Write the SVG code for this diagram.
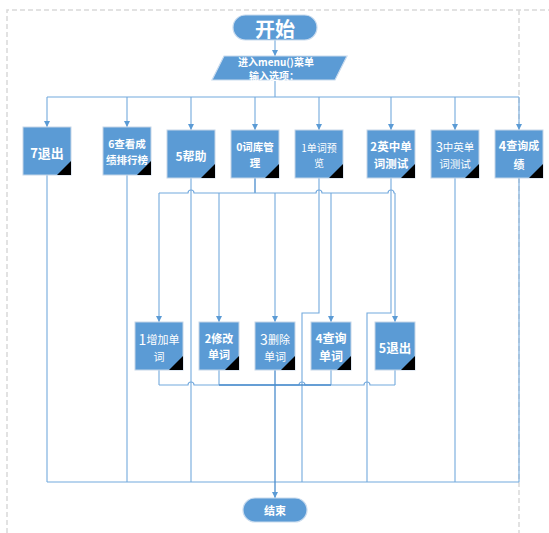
<svg xmlns="http://www.w3.org/2000/svg" width="549" height="533" viewBox="0 0 549 533">
<style>
.bg{fill:#ffffff}
.page{fill:none;stroke:#d9d9d9;stroke-width:1.5;stroke-dasharray:5 3}
.box{fill:#5b9bd5;stroke:#c5d6e8;stroke-width:1}
.tri{fill:#000}
.term{fill:#5b9bd5;stroke:#c9dbee;stroke-width:1.2}
.t{fill:#ffffff;font-family:"Noto Sans CJK SC","Microsoft YaHei",sans-serif;text-anchor:middle;dominant-baseline:central}
.b{font-weight:bold}
.ln{fill:none;stroke:#73a9dd;stroke-width:1.1}
.dk{fill:none;stroke:#4a8ccd;stroke-width:1.3}
</style>
<defs>
<marker id="ar" viewBox="0 0 10 10" refX="10" refY="5" markerWidth="6" markerHeight="6" markerUnits="userSpaceOnUse" orient="auto">
<path d="M0 0 L10 5 L0 10 z" fill="#5b9bd5"/>
</marker>
</defs>
<rect class="bg" x="0" y="0" width="549" height="533"/>
<g id="page">
<path class="page" d="M7 533 V10 H549"/>
<path class="page" d="M519 10 V533"/>
</g>

<g id="connectors">
<path class="ln" d="M275 40 V56" marker-end="url(#ar)"/>
<path class="ln" d="M275 80 V97"/>
<path class="ln" d="M47 97 H519"/>
<path class="ln" d="M47 97 V127" marker-end="url(#ar)"/>
<path class="ln" d="M127 97 V127" marker-end="url(#ar)"/>
<path class="ln" d="M191 97 V130" marker-end="url(#ar)"/>
<path class="ln" d="M255 97 V130" marker-end="url(#ar)"/>
<path class="ln" d="M319 97 V130" marker-end="url(#ar)"/>
<path class="ln" d="M391 97 V130" marker-end="url(#ar)"/>
<path class="ln" d="M455 97 V130" marker-end="url(#ar)"/>
<path class="ln" d="M519 97 V130" marker-end="url(#ar)"/>
<path class="ln" d="M47 175 V482"/>
<path class="ln" d="M127 175 V482"/>
<path class="ln" d="M191 178 V482"/>
<path class="ln" d="M455 178 V482"/>
<path class="ln" d="M519 178 V482"/>
<path class="ln" d="M47 482 H519"/>
<path class="dk" d="M255 178 V193"/>
<path class="ln" d="M159 193 H188 a3 3 0 0 1 6 0 H316 a3 3 0 0 1 6 0 H388 a3 3 0 0 1 6 0 H395"/>
<path class="ln" d="M159 193 V322" marker-end="url(#ar)"/>
<path class="ln" d="M219 193 V322" marker-end="url(#ar)"/>
<path class="ln" d="M275 193 V322" marker-end="url(#ar)"/>
<path class="ln" d="M331 193 V322" marker-end="url(#ar)"/>
<path class="ln" d="M395 193 V322" marker-end="url(#ar)"/>
<path class="ln" d="M319 178 V313 H302 V482"/>
<path class="ln" d="M391 178 V313 H367 V482"/>
<path class="ln" d="M159 370 V385"/>
<path class="ln" d="M219 370 V385"/>
<path class="ln" d="M331 370 V385"/>
<path class="ln" d="M395 370 V385"/>
<path class="ln" d="M159 385 H188 a3 3 0 0 1 6 0 H299 a3 3 0 0 1 6 0 H364 a3 3 0 0 1 6 0 H395"/>
<path class="dk" d="M219 385 H331"/>
<path class="dk" d="M275 370 V498" marker-end="url(#ar)"/>
</g>

<g id="start">
<rect class="term" x="233" y="15" width="84" height="25" rx="12.5"/>
<text class="t b" x="275" y="28" font-size="20">开始</text>
</g>
<g id="menu">
<path class="term" d="M224 56 H347 L335 80 H212 Z"/>
<text class="t b" x="276" y="61" font-size="10">进入menu()菜单</text>
<text class="t b" x="274" y="75" font-size="10">输入选项：</text>
</g>

<g id="n7">
<rect class="box" x="23" y="127" width="48" height="48"/>
<path class="tri" d="M57 175 L71 161 V175 Z"/>
<text class="t b" x="47" y="152" font-size="13">7退出</text>
</g>
<g id="n6">
<rect class="box" x="103" y="127" width="48" height="48"/>
<path class="tri" d="M137 175 L151 161 V175 Z"/>
<text class="t b" x="127" y="143" font-size="10.5">6查看成</text>
<text class="t b" x="127" y="159" font-size="10.5">绩排行榜</text>
</g>
<g id="n5">
<rect class="box" x="167" y="130" width="48" height="48"/>
<path class="tri" d="M201 178 L215 164 V178 Z"/>
<text class="t b" x="191" y="155" font-size="12">5帮助</text>
</g>
<g id="n0">
<rect class="box" x="231" y="130" width="48" height="48"/>
<path class="tri" d="M265 178 L279 164 V178 Z"/>
<text class="t b" x="255" y="146" font-size="10.5">0词库管</text>
<text class="t b" x="255" y="162" font-size="10.5">理</text>
</g>
<g id="n1">
<rect class="box" x="295" y="130" width="48" height="48"/>
<path class="tri" d="M329 178 L343 164 V178 Z"/>
<text class="t" x="319" y="147" font-size="10">1单词预</text>
<text class="t" x="319" y="162" font-size="10">览</text>
</g>
<g id="n2">
<rect class="box" x="367" y="130" width="48" height="48"/>
<path class="tri" d="M401 178 L415 164 V178 Z"/>
<text class="t b" x="391" y="146" font-size="11.5">2英中单</text>
<text class="t b" x="391" y="163" font-size="11.5">词测试</text>
</g>
<g id="n3">
<rect class="box" x="431" y="130" width="48" height="48"/>
<path class="tri" d="M465 178 L479 164 V178 Z"/>
<text class="t" x="455" y="146" font-size="10.5"><tspan font-size="13">3</tspan>中英单</text>
<text class="t" x="455" y="163" font-size="10.5">词测试</text>
</g>
<g id="n4">
<rect class="box" x="495" y="130" width="48" height="48"/>
<path class="tri" d="M529 178 L543 164 V178 Z"/>
<text class="t b" x="519" y="145" font-size="11"><tspan font-size="12.5">4</tspan>查询成</text>
<text class="t b" x="519" y="164" font-size="11">绩</text>
</g>

<g id="s1">
<rect class="box" x="135" y="322" width="48" height="48"/>
<path class="tri" d="M169 370 L183 356 V370 Z"/>
<text class="t" x="159" y="339" font-size="11"><tspan font-size="14">1</tspan>增加单</text>
<text class="t" x="159" y="356" font-size="11">词</text>
</g>
<g id="s2">
<rect class="box" x="199" y="322" width="40" height="48"/>
<path class="tri" d="M225 370 L239 356 V370 Z"/>
<text class="t b" x="219" y="338" font-size="11">2修改</text>
<text class="t b" x="219" y="354" font-size="11">单词</text>
</g>
<g id="s3">
<rect class="box" x="255" y="322" width="40" height="48"/>
<path class="tri" d="M281 370 L295 356 V370 Z"/>
<text class="t" x="275" y="339" font-size="11"><tspan font-size="14">3</tspan>删除</text>
<text class="t" x="275" y="356" font-size="11">单词</text>
</g>
<g id="s4">
<rect class="box" x="311" y="322" width="40" height="48"/>
<path class="tri" d="M337 370 L351 356 V370 Z"/>
<text class="t b" x="331" y="337" font-size="12">4查询</text>
<text class="t b" x="331" y="355" font-size="12">单词</text>
</g>
<g id="s5">
<rect class="box" x="375" y="322" width="40" height="48"/>
<path class="tri" d="M401 370 L415 356 V370 Z"/>
<text class="t b" x="395" y="347" font-size="12.5">5退出</text>
</g>

<g id="end">
<rect class="term" x="243" y="498" width="64" height="24" rx="12"/>
<text class="t b" x="275" y="510" font-size="11">结束</text>
</g>
</svg>
